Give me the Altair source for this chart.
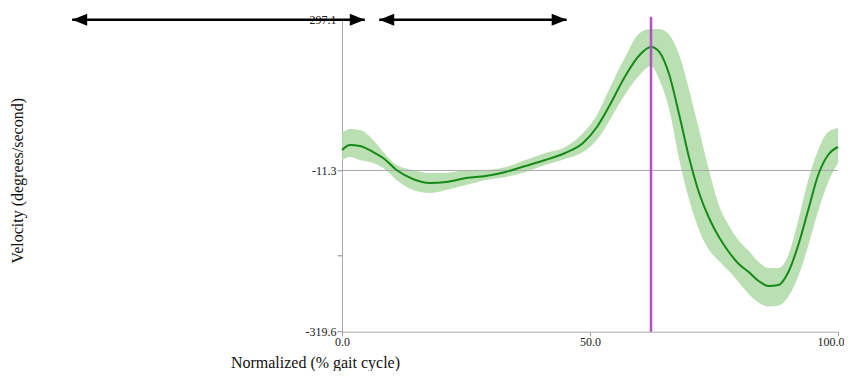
import altair as alt
import pandas as pd

# % gait cycle
pct = [0, 1.6, 3.6, 6.3, 8.3, 11, 14.3, 17.7, 21, 25, 29, 33, 37, 41, 45, 48.6, 51.4,
       54, 57, 60, 62.3, 64, 66, 68, 70, 72, 74, 76, 78, 80, 82, 84, 86, 88, 90, 92,
       94, 96, 98, 100]
# mean velocity (degrees/second)
mean_v = [39.1, 49.0, 47.0, 35.1, 23.3, -0.4, -18.2, -26.1, -24.1, -16.2, -12.2, -4.3,
          7.5, 19.3, 33.2, 52.9, 84.5, 127.9, 183.2, 226.6, 242.4, 232.5, 187.1, 108.2,
          23.3, -45.8, -95.2, -132.7, -162.3, -186.0, -201.8, -219.5, -229.4, -227.4,
          -201.8, -148.5, -79.4, -10.3, 29.2, 45.0]
# upper edge of the band
upper_v = [72.6, 80.5, 78.6, 58.8, 35.1, 9.5, -0.4, -6.3, -6.3, -0.4, -0.4, 5.5, 19.3,
           33.2, 45.0, 72.6, 108.2, 161.5, 220.7, 270.0, 278.0, 278.0, 266.1, 226.6,
           157.5, 78.6, -0.4, -70.0, -110.0, -140.0, -160.0, -182.0, -193.9, -193.9,
           -168.2, -99.1, -20.1, 39.1, 74.6, 82.5]
# lower edge of the band
lower_v = [19.3, 25.3, 19.3, 13.4, 3.6, -20.1, -39.9, -45.8, -39.9, -30.0, -20.1, -14.2,
           -4.3, 9.5, 21.3, 35.1, 58.8, 98.3, 147.7, 187.1, 204.9, 177.3, 118.0, 19.3,
           -59.6, -118.9, -158.3, -180.0, -200.0, -222.0, -245.0, -262.0, -270.0, -268.0,
           -250.0, -210.0, -150.0, -82.0, -25.0, 13.4]

y_min, y_max = -319.6, 297.1
y_tick_values = [297.1, -1.3, -169.6, -319.6]
x_tick_values = [0, 50, 100]
ref_level = -1.3          # reference line (labelled -11.3)
event_pct = 62.3          # vertical marker
event_top = 302.2

# double arrows: start, end (% gait cycle), height
arrow_start = [-54.4, 7.5]
arrow_end = [4.6, 45.3]
arrow_level = 296.0

df = pd.DataFrame({"pct": pct, "mean": mean_v, "upper": upper_v, "lower": lower_v})
arrows = pd.DataFrame({"x": arrow_start, "x2": arrow_end, "y": [arrow_level] * 2})
heads = pd.DataFrame({
    "x": arrow_start + arrow_end,
    "y": [arrow_level] * 4,
    "dir": ["left", "left", "right", "right"],
})

serif = "Liberation Serif"

xscale = alt.Scale(domain=[0, 100], nice=False, zero=False)
yscale = alt.Scale(domain=[y_min, y_max], nice=False, zero=False)

x_axis = alt.Axis(
    values=x_tick_values, labelExpr="format(datum.value, '.1f')",
    title="Normalized (% gait cycle)", titleFont=serif, titleFontSize=16,
    titleFontWeight="normal", titleColor="#111", titleX=-27, titleY=31,
    titleBaseline="middle", titleAlign="center",
    labelFont=serif, labelFontSize=12, labelColor="#222", labelPadding=1,
    labelFlush=False, labelOverlap=False,
    labelAlign={"condition": {"test": "datum.value == 100", "value": "right"}, "value": "center"},
    labelOffset={"condition": {"test": "datum.value == 100", "value": 6}, "value": 0},
    tickSize=4, tickColor="#999", domainColor="#aaa", grid=False,
)
y_axis = alt.Axis(
    values=y_tick_values,
    labelExpr="datum.value > 290 ? '297.1' : (datum.value < -300 ? '-319.6' : (datum.value > -50 ? '-11.3' : ''))",
    title="Velocity (degrees/second)", titleFont=serif, titleFontSize=16,
    titleFontWeight="normal", titleColor="#111", titleX=-325, titleY=161,
    titleAngle=-90, titleAlign="center", titleBaseline="middle",
    labelFont=serif, labelFontSize=12, labelColor="#222", labelPadding=1,
    labelFlush=False, labelOverlap=False,
    tickSize=5, tickColor="#888", domainColor="#aaa", grid=False,
)

base = alt.Chart(df)

band = base.mark_area(color="#b3dcab", opacity=0.9, interpolate="monotone").encode(
    x=alt.X("pct:Q", scale=xscale, axis=x_axis),
    y=alt.Y("upper:Q", scale=yscale, axis=y_axis),
    y2="lower:Q",
)

ref = alt.Chart(pd.DataFrame({"y": [ref_level]})).mark_rule(color="#aaaaaa", strokeWidth=1).encode(
    y=alt.Y("y:Q", scale=yscale),
)

line = base.mark_line(color="#168a16", strokeWidth=2, interpolate="monotone").encode(
    x=alt.X("pct:Q", scale=xscale),
    y=alt.Y("mean:Q", scale=yscale),
)

event = alt.Chart(pd.DataFrame({"x": [event_pct], "y": [y_min], "y2": [event_top]})).mark_rule(
    color="#b44fc4", strokeWidth=2.5, clip=False
).encode(
    x=alt.X("x:Q", scale=xscale),
    y=alt.Y("y:Q", scale=yscale),
    y2="y2:Q",
)

arrow_lines = alt.Chart(arrows).mark_rule(color="black", strokeWidth=2.5, clip=False).encode(
    x=alt.X("x:Q", scale=xscale),
    x2="x2:Q",
    y=alt.Y("y:Q", scale=yscale),
)

head_right = alt.Chart(heads).transform_filter("datum.dir == 'right'").mark_point(
    shape="M0,0L-2,-0.8L-2,0.8Z", size=225, filled=True, color="black", opacity=1, clip=False
).encode(x=alt.X("x:Q", scale=xscale), y=alt.Y("y:Q", scale=yscale))

head_left = alt.Chart(heads).transform_filter("datum.dir == 'left'").mark_point(
    shape="M0,0L2,-0.8L2,0.8Z", size=225, filled=True, color="black", opacity=1, clip=False
).encode(x=alt.X("x:Q", scale=xscale), y=alt.Y("y:Q", scale=yscale))

chart = alt.layer(band, ref, line, event, arrow_lines, head_right, head_left).properties(
    width=496, height=312.4,
    autosize=alt.AutoSizeParams(type="none"),
    padding={"left": 334, "top": 11.3, "right": 6, "bottom": 39},
    background="white",
).configure_view(stroke=None)

chart.save("out.html", embed_options={"renderer": "svg", "actions": False})
